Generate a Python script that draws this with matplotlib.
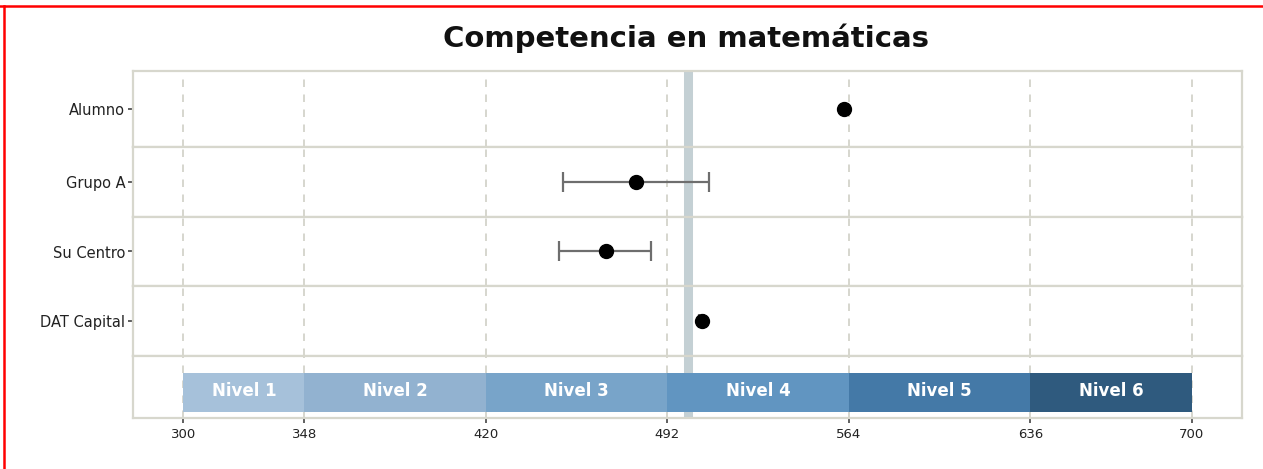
import numpy as np
import matplotlib
matplotlib.use("Agg")
import matplotlib.pyplot as plt
from matplotlib.lines import Line2D

# ---- data ----
categories = ["Alumno", "Grupo A", "Su Centro", "DAT Capital"]
means = [562.0, 479.4, 467.5, 505.6]
lower = [np.nan, 450.5, 449.2, 504.6]
upper = [np.nan, 508.6, 485.7, 506.6]
reference_value = 500
level_edges = [300, 348, 420, 492, 564, 636, 700]
level_labels = ["Nivel 1", "Nivel 2", "Nivel 3", "Nivel 4", "Nivel 5", "Nivel 6"]
level_colors = ["#a6c1da", "#92b2d0", "#78a4c9", "#6195c1", "#4479a7", "#2f5a7e"]
title = "Competencia en matemáticas"

W, H = 1263, 469
fig = plt.figure(figsize=(W / 100, H / 100), dpi=100)
fig.patch.set_facecolor("white")

border_col = "#d7d7cd"
grid_col = "#cfcfc6"
ref_col = "#c4d0d4"

gs = fig.add_gridspec(5, 1, left=133 / W, right=1242 / W, top=1 - 71 / H,
                      bottom=1 - 418 / H, height_ratios=[76, 70, 69, 70, 62],
                      hspace=0)
axes = [fig.add_subplot(gs[i, 0]) for i in range(5)]

for i, ax in enumerate(axes):
    ax.set_xlim(280, 720)
    for sp in ax.spines.values():
        sp.set_color(border_col)
        sp.set_linewidth(1.6)
    for t in level_edges:
        ax.axvline(t, color=grid_col, lw=1.2, dashes=(4.5, 4.5), zorder=1)
    ax.axvline(reference_value, color=ref_col, lw=6.5, zorder=1.5)
    ax.set_xticks(level_edges)
    if i < 4:
        ax.set_ylim(-1, 1)
        m, lo, hi = means[i], lower[i], upper[i]
        if not np.isnan(lo):
            cap = 7.2 if (hi - lo) > 5 else 5.0
            ax.errorbar([m], [0], xerr=[[m - lo], [hi - m]], fmt="none",
                        ecolor="#6e6e6e", elinewidth=1.6, capsize=cap,
                        capthick=1.6, zorder=3)
        ax.plot([m], [0], "o", color="black", markersize=10, zorder=4)
        ax.set_yticks([0])
        ax.set_yticklabels([categories[i]], fontsize=10.5, color="#222222")
        ax.tick_params(axis="y", length=3.5, width=1.2, color="#444444", pad=2)
        ax.tick_params(axis="x", length=0, labelbottom=False)
    else:
        ax.set_ylim(0, 1)
        ax.set_yticks([])
        for j, lab in enumerate(level_labels):
            x0, x1 = level_edges[j], level_edges[j + 1]
            ax.barh(0.41, x1 - x0, left=x0, height=0.63, color=level_colors[j],
                    edgecolor="none", zorder=5)
            ax.text((x0 + x1) / 2, 0.44, lab, ha="center", va="center",
                    color="white", fontsize=12, fontweight="bold", zorder=6)
        ax.set_xticklabels([str(v) for v in level_edges], fontsize=9.5,
                           color="#222222")
        ax.tick_params(axis="x", length=3.5, width=1.2, color="#444444", pad=4)

fig.text(686 / W, 1 - 47 / H, title, ha="center", va="baseline",
         fontsize=21, fontweight="bold", color="#111111")

fig.add_artist(Line2D([0, 1], [1 - 6.5 / H] * 2, color="red", lw=1.8,
                      transform=fig.transFigure))
fig.add_artist(Line2D([4 / W] * 2, [0, 1 - 6.5 / H], color="red", lw=1.8,
                      transform=fig.transFigure))

fig.savefig("out.png", dpi=100)
